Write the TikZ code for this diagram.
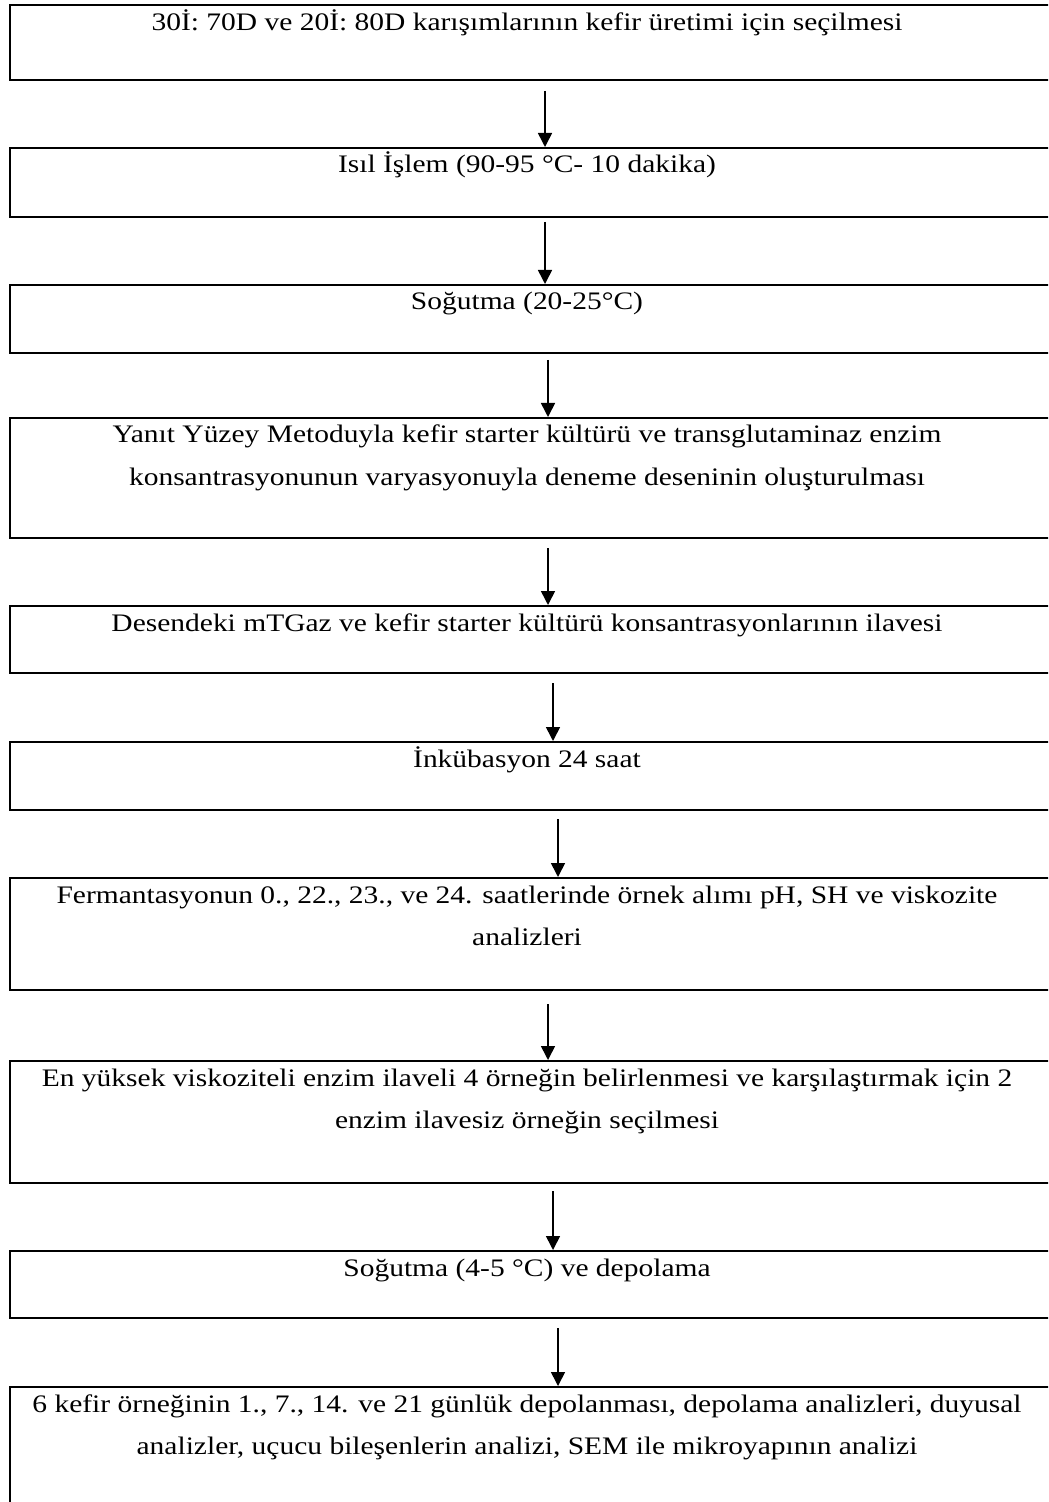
\documentclass[tikz,border=0pt]{standalone}
\usepackage{fontspec}
\setmainfont{Liberation Serif}[FakeStretch=1.17]
\usetikzlibrary{arrows.meta}

\begin{document}
\begin{tikzpicture}[x=0.5pt,y=-0.5pt,
  adim/.style={draw,line width=1pt,minimum width=525pt,inner sep=0pt},
  yazi/.style={anchor=base,align=center,inner sep=0pt,font=\fontsize{12.6}{21}\selectfont},
  ok/.style={-{Triangle[width=7pt,length=7pt]},line width=0.8pt}]
\useasboundingbox (0,0) rectangle (1048,1502);
\clip (0,0) rectangle (1048,1502);
% kutular
\node[adim,minimum height=37.5pt] (s1) at (535,42.5) {};
\node[adim,minimum height=34.5pt] (s2) at (535,182.5) {};
\node[adim,minimum height=34pt] (s3) at (535,319) {};
\node[adim,minimum height=60pt] (s4) at (535,478) {};
\node[adim,minimum height=33.5pt] (s5) at (535,639.5) {};
\node[adim,minimum height=34pt] (s6) at (535,776) {};
\node[adim,minimum height=56pt] (s7) at (535,934) {};
\node[adim,minimum height=61pt] (s8) at (535,1122) {};
\node[adim,minimum height=33.5pt] (s9) at (535,1284.5) {};
\node[adim,minimum height=66pt] (s10) at (535,1453) {};
% yazilar (iki satirlilarda base son satirda)
\node[yazi] (t1) at (527,31) {30İ: 70D ve 20İ: 80D karışımlarının kefir üretimi için seçilmesi};
\node[yazi] (t2) at (527,173) {Isıl İşlem (90-95 °C- 10 dakika)};
\node[yazi] (t3) at (527,310) {Soğutma (20-25°C)};
\node[yazi] (t4) at (527,485) {Yanıt Yüzey Metoduyla kefir starter kültürü ve transglutaminaz enzim\\konsantrasyonunun varyasyonuyla deneme deseninin oluşturulması};
\node[yazi] (t5) at (527,631) {Desendeki mTGaz ve kefir starter kültürü konsantrasyonlarının ilavesi};
\node[yazi] (t6) at (527,767) {İnkübasyon 24 saat};
\node[yazi] (t7) at (527,945) {Fermantasyonun 0., 22., 23., ve 24. saatlerinde örnek alımı pH, SH ve viskozite\\analizleri};
\node[yazi] (t8) at (527,1128) {En yüksek viskoziteli enzim ilaveli 4 örneğin belirlenmesi ve karşılaştırmak için 2\\enzim ilavesiz örneğin seçilmesi};
\node[yazi] (t9) at (527,1276) {Soğutma (4-5 °C) ve depolama};
\node[yazi] (t10) at (527,1454) {6 kefir örneğinin 1., 7., 14. ve 21 günlük depolanması, depolama analizleri, duyusal\\analizler, uçucu bileşenlerin analizi, SEM ile mikroyapının analizi};
% oklar
\draw[ok] ([xshift=5pt,yshift=-5pt]s1.south) -- ([xshift=5pt]s2.north);
\draw[ok] ([xshift=5pt,yshift=-2pt]s2.south) -- ([xshift=5pt]s3.north);
\draw[ok] ([xshift=6.5pt,yshift=-3pt]s3.south) -- ([xshift=6.5pt]s4.north);
\draw[ok] ([xshift=6.5pt,yshift=-4.5pt]s4.south) -- ([xshift=6.5pt]s5.north);
\draw[ok] ([xshift=9pt,yshift=-4.5pt]s5.south) -- ([xshift=9pt]s6.north);
\draw[ok] ([xshift=11.5pt,yshift=-4pt]s6.south) -- ([xshift=11.5pt]s7.north);
\draw[ok] ([xshift=6.5pt,yshift=-6.5pt]s7.south) -- ([xshift=6.5pt]s8.north);
\draw[ok] ([xshift=9pt,yshift=-3.5pt]s8.south) -- ([xshift=9pt]s9.north);
\draw[ok] ([xshift=11.5pt,yshift=-4.5pt]s9.south) -- ([xshift=11.5pt]s10.north);
\end{tikzpicture}
\end{document}
